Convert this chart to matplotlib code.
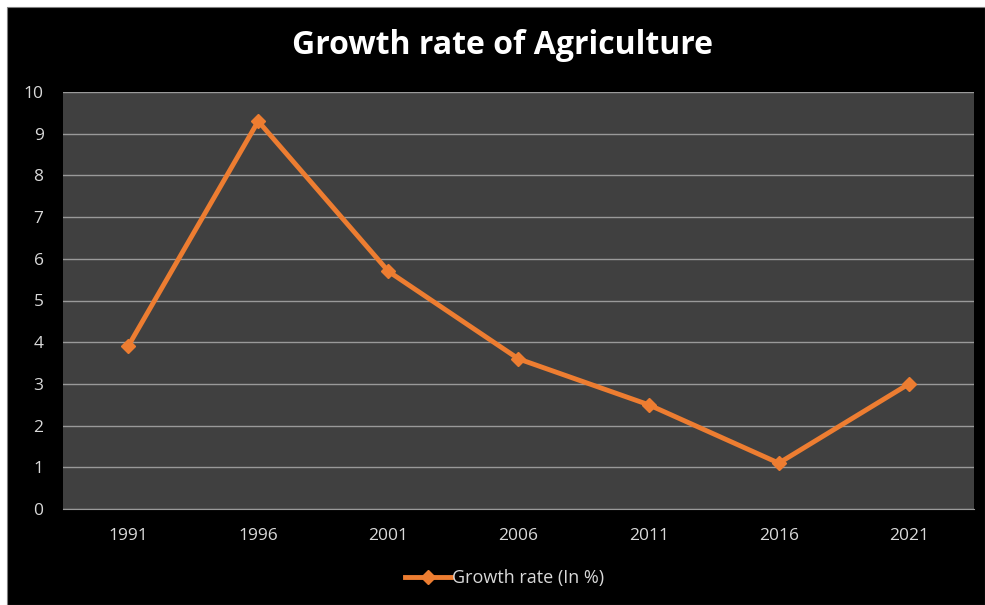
import matplotlib.pyplot as plt
from matplotlib.patches import Rectangle

# --- DATA ---
years = ["1991", "1996", "2001", "2006", "2011", "2016", "2021"]
growth = [3.9, 9.3, 5.7, 3.6, 2.5, 1.1, 3.0]
y_ticks = [0, 1, 2, 3, 4, 5, 6, 7, 8, 9, 10]

orange = "#ED7D31"
txt = "#D9D9D9"

plt.rcParams["font.family"] = ["Open Sans", "DejaVu Sans"]

fig = plt.figure(figsize=(9.85, 6.05), dpi=100, facecolor="white")
W, H = 985, 605
# black chart area with white strips at top and left
fig.patches.append(Rectangle((7 / W, 0), 1 - 7 / W, 1 - 7 / H, transform=fig.transFigure,
                             facecolor="black", edgecolor="#7f7f7f", linewidth=0.8, zorder=-1))

ax = fig.add_axes([63 / W, (H - 509) / H, (974 - 63) / W, (509 - 92) / H])
ax.set_facecolor("#404040")

x = range(len(years))
ax.plot(x, growth, color=orange, linewidth=3.5, marker="D", markersize=7,
        markeredgecolor=orange, label="Growth rate (In %)", zorder=3)

ax.set_xlim(-0.5, len(years) - 0.5)
ax.set_ylim(0, 10)
ax.set_yticks(y_ticks)
ax.set_xticks(list(x))
ax.set_xticklabels(years)

ax.grid(True, axis="y", color="#9a9a9a", linewidth=1.0)
ax.set_axisbelow(True)
for s in ["top", "right", "left"]:
    ax.spines[s].set_visible(False)
ax.spines["bottom"].set_color("#9a9a9a")
ax.tick_params(axis="both", length=0, labelsize=12.5, labelcolor=txt)
ax.tick_params(axis="x", pad=14)
ax.tick_params(axis="y", pad=14)

fig.text(502 / W, 1 - 46 / H, "Growth rate of Agriculture", ha="center", va="center",
         fontsize=23, fontweight="bold", color="white")

leg = ax.legend(loc="center", bbox_to_anchor=(505 / W, 1 - 578 / H),
                bbox_transform=fig.transFigure, frameon=False, fontsize=13,
                handlelength=2.5, handletextpad=0.1)
for t in leg.get_texts():
    t.set_color(txt)

fig.savefig("out.png", dpi=100, facecolor=fig.get_facecolor())
